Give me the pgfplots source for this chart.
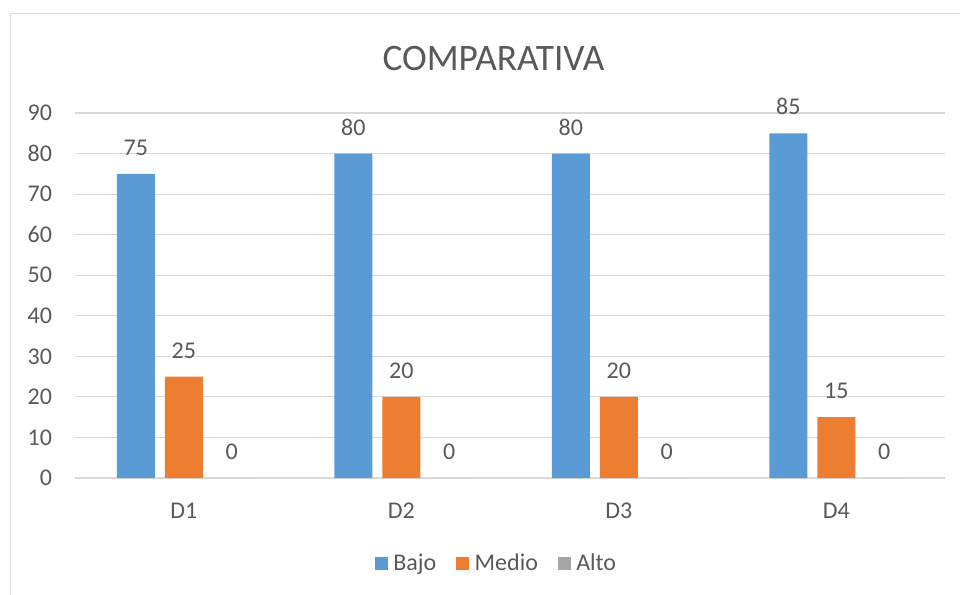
\documentclass[border=0pt]{standalone}
\usepackage{pgfplots}
\pgfplotsset{compat=1.18}
\usepackage{fontspec}
\setmainfont{Carlito}
\definecolor{bajo}{HTML}{5B9BD5}
\definecolor{medio}{HTML}{ED7D31}
\definecolor{alto}{HTML}{A5A5A5}
\definecolor{gridc}{HTML}{D9D9D9}
\definecolor{textc}{HTML}{595959}
\newcommand{\tf}{\fontsize{18}{21}\selectfont}
\begin{document}
\begin{tikzpicture}
\useasboundingbox (-56.25pt,-87pt) rectangle (663.75pt,358.5pt);
\draw[gridc, line width=1.1pt] (-48.375pt,-95pt) -- (-48.375pt,348.375pt) -- (670pt,348.375pt);
\begin{axis}[
  at={(0pt,0pt)}, anchor=south west,
  scale only axis, width=652.5pt, height=273.75pt,
  xmin=-0.5, xmax=3.5, ymin=0, ymax=90,
  ybar=7.5pt, bar width=28.5pt,
  axis line style={draw=none},
  major tick length=0pt,
  tick style={draw=none},
  ymajorgrids, grid style={gridc, line width=0.8pt},
  ytick={0,10,...,90},
  xtick={0,1,2,3}, xticklabels={D1,D2,D3,D4},
  ticklabel style={font=\tf, text=textc},
  /pgf/number format/assume math mode=true,
  yticklabel style={anchor=east, inner sep=0pt, xshift=-17pt},
  xticklabel style={anchor=north, inner sep=0pt, yshift=-18.75pt},
  nodes near coords,
  every node near coord/.append style={anchor=south, inner sep=0pt, yshift=13.5pt, font=\tf, text=textc},
  legend style={at={(0.485,-0.233)}, anchor=center, legend columns=3, draw=none, fill=none,
    font=\tf, text=textc,
    /tikz/every odd column/.append style={column sep=2pt},
    /tikz/every even column/.append style={column sep=13pt}},
  legend image code/.code={\fill[#1,draw=none] (0pt,-4.9pt) rectangle (9.75pt,4.85pt);},
  clip=false,
]
\addplot[fill=bajo, draw=none] coordinates {(0,75) (1,80) (2,80) (3,85)};
\addplot[fill=medio, draw=none] coordinates {(0,25) (1,20) (2,20) (3,15)};
\addplot[fill=alto, draw=none] coordinates {(0,0) (1,0) (2,0) (3,0)};
\legend{Bajo,Medio,Alto}
\node[font=\fontsize{28}{33}\selectfont, text=textc] at (rel axis cs:0.481,1.1507) {COMPARATIVA};
\end{axis}
\end{tikzpicture}
\end{document}
